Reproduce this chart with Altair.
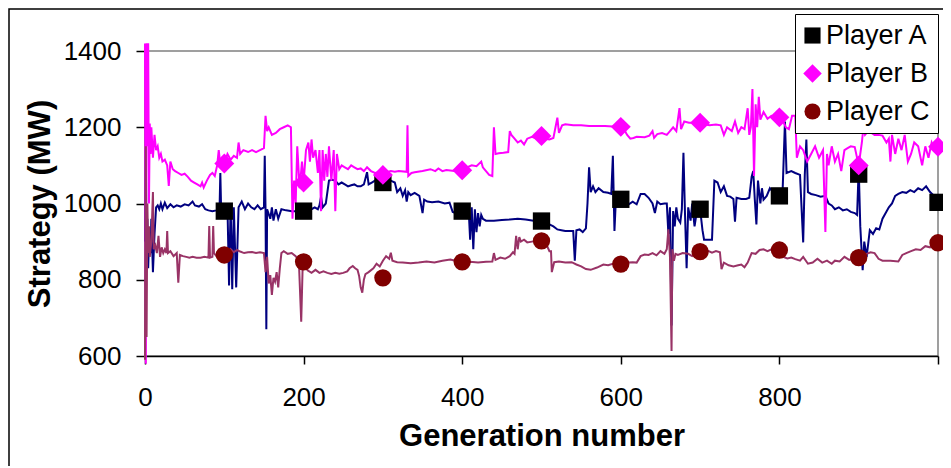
import altair as alt
import pandas as pd

PLAYERS = ["Player A", "Player B", "Player C"]

MARK_GEN = [100, 200, 300, 400, 500, 600, 700, 800, 900, 1000]
A_MARK = [980, 980, 1055, 980, 954, 1011, 985, 1020, 1077, 1003]
B_MARK = [1105, 1055, 1075, 1087, 1177, 1201, 1212, 1226, 1100, 1149]
C_MARK = [865, 847, 805, 847, 902, 841, 874, 878, 858, 897]

A_LINE = [
    (0, 900), (1, 1145), (2, 870), (3, 960), (4, 830), (5, 900), (7, 870), (8, 960), (10, 820), (12, 920),
    (14, 990), (16, 995), (18, 985), (20, 1000), (22, 985), (25, 1002), (28, 988), (32, 998), (36, 990),
    (40, 995), (45, 992), (50, 998), (55, 995), (60, 1005), (63, 995), (68, 992), (72, 998), (76, 985),
    (80, 982), (85, 980), (90, 982), (94, 985), (95, 1080), (96, 985), (100, 980), (104, 990), (106, 785),
    (108, 1000), (110, 775), (112, 990), (115, 780), (118, 990), (122, 1005), (126, 985), (130, 1000),
    (134, 990), (138, 985), (142, 995), (146, 985), (150, 990), (151, 1125), (152, 985), (153, 670),
    (154, 985), (158, 960), (160, 990), (162, 955), (165, 985), (168, 960), (172, 985), (178, 982),
    (185, 980), (190, 980), (195, 980), (200, 980), (205, 982), (210, 985), (214, 990), (218, 985),
    (220, 995), (222, 1018), (224, 990), (228, 1000), (232, 1060), (236, 1062), (240, 1060), (244, 1050),
    (248, 1055), (252, 1050), (256, 1045), (260, 1048), (264, 1050), (268, 1045), (272, 1045), (276, 1050),
    (280, 1082), (282, 1050), (286, 1055), (290, 1060), (295, 1058), (300, 1058), (305, 1060), (310, 1060),
    (315, 1055), (318, 1030), (322, 1040), (325, 1020), (328, 1035), (330, 1005), (332, 1030), (335, 1022),
    (340, 1028), (346, 1020), (350, 975), (352, 1010), (356, 1005), (362, 1003), (370, 1005), (378, 1000),
    (384, 1002), (388, 978), (392, 975), (396, 980), (400, 980), (404, 985), (408, 990), (410, 905),
    (412, 990), (414, 880), (416, 985), (418, 925), (420, 975), (422, 940), (424, 970), (426, 960),
    (430, 955), (440, 955), (450, 957), (460, 958), (470, 960), (480, 958), (490, 955), (500, 955),
    (505, 952), (510, 945), (515, 940), (520, 932), (525, 930), (530, 928), (535, 928), (540, 928),
    (542, 850), (544, 930), (548, 932), (552, 925), (556, 935), (558, 1000), (560, 1095), (562, 1030),
    (565, 1045), (568, 1030), (572, 1040), (578, 1030), (584, 1028), (588, 1025), (590, 1125), (592, 928),
    (594, 1020), (598, 1012), (600, 1010), (605, 1003), (610, 998), (615, 1005), (620, 998), (625, 1025),
    (630, 1025), (635, 1015), (640, 1000), (643, 975), (646, 1005), (650, 998), (655, 1000), (658, 1000),
    (660, 920), (662, 990), (664, 680), (666, 980), (668, 940), (670, 990), (672, 960), (675, 950),
    (677, 985), (679, 1133), (681, 970), (683, 830), (685, 990), (688, 955), (690, 1000), (693, 940),
    (696, 980), (700, 985), (703, 930), (705, 905), (710, 905), (715, 905), (718, 1060), (722, 1055),
    (726, 1030), (730, 1045), (734, 1020), (738, 1018), (742, 1012), (744, 952), (746, 1015), (752, 1012),
    (758, 1012), (762, 1015), (765, 1070), (767, 1085), (769, 1010), (771, 945), (773, 1060), (776, 1000),
    (778, 1040), (780, 1010), (784, 1020), (788, 1040), (792, 1030), (796, 1025), (800, 1020), (804, 1030),
    (807, 1215), (809, 1080), (815, 1085), (820, 1080), (826, 1075), (830, 898), (832, 1075), (834, 1168),
    (836, 1030), (840, 1025), (846, 1022), (852, 1018), (858, 1020), (862, 1000), (866, 995), (870, 985),
    (875, 990), (880, 982), (885, 985), (890, 978), (895, 975), (898, 970), (900, 1095), (902, 940),
    (905, 825), (907, 900), (910, 860), (914, 930), (918, 920), (922, 935), (926, 932), (930, 960),
    (934, 975), (938, 990), (942, 1000), (946, 1020), (950, 1025), (955, 1030), (960, 1028), (965, 1035),
    (970, 1030), (975, 1040), (980, 1035), (985, 1045), (990, 1030), (995, 1020), (1000, 1005),
]

B_LINE = [
    (0, 1420), (1, 580), (2, 1420), (3, 1150), (4, 1420), (5, 1000), (6, 1210), (7, 1130), (8, 1200),
    (10, 1120), (12, 1180), (14, 1140), (16, 1150), (18, 1120), (20, 1130), (22, 1110), (25, 1115),
    (28, 1100), (30, 1046), (32, 1110), (35, 1090), (38, 1085), (42, 1080), (46, 1075), (50, 1078),
    (54, 1070), (58, 1060), (62, 1055), (66, 1050), (70, 1045), (72, 1055), (74, 1042), (78, 1060),
    (82, 1075), (85, 1080), (88, 1072), (91, 1100), (93, 1140), (95, 1100), (100, 1105), (104, 1130),
    (108, 1115), (112, 1125), (116, 1120), (118, 1160), (120, 1130), (124, 1140), (130, 1135), (135, 1140),
    (140, 1135), (145, 1140), (150, 1145), (152, 1230), (154, 1190), (156, 1200), (160, 1180), (165, 1185),
    (170, 1195), (175, 1200), (180, 1205), (184, 1200), (186, 960), (188, 1060), (190, 1000), (192, 1150),
    (195, 1040), (198, 1110), (200, 1055), (203, 1140), (206, 1160), (208, 1110), (210, 1168), (212, 1120),
    (215, 1140), (218, 1080), (220, 1140), (222, 980), (224, 1140), (226, 1060), (228, 1130), (230, 1070),
    (232, 1150), (235, 1060), (238, 1140), (240, 980), (242, 1130), (245, 1090), (248, 1100), (252, 1095),
    (256, 1090), (260, 1100), (264, 1095), (268, 1090), (272, 1092), (276, 1085), (280, 1095), (285, 1085),
    (290, 1080), (295, 1082), (300, 1078), (305, 1082), (310, 1085), (315, 1083), (320, 1085), (330, 1083),
    (331, 1205), (332, 1072), (336, 1080), (340, 1082), (350, 1085), (360, 1090), (366, 1085), (370, 1092),
    (375, 1085), (380, 1088), (390, 1085), (400, 1085), (406, 1095), (412, 1100), (418, 1098), (424, 1110),
    (426, 1095), (430, 1085), (434, 1075), (438, 1072), (440, 1200), (442, 1130), (446, 1132), (452, 1133),
    (458, 1135), (460, 1190), (462, 1180), (466, 1170), (470, 1160), (474, 1165), (478, 1155), (482, 1170),
    (488, 1175), (494, 1170), (500, 1175), (505, 1170), (510, 1168), (515, 1172), (520, 1225), (522, 1185),
    (526, 1205), (530, 1208), (540, 1205), (550, 1205), (560, 1203), (570, 1203), (580, 1203), (590, 1202),
    (600, 1200), (604, 1195), (608, 1180), (612, 1170), (616, 1172), (620, 1175), (630, 1174), (636, 1178),
    (640, 1190), (642, 1172), (646, 1182), (652, 1185), (658, 1180), (662, 1190), (666, 1200), (670, 1190),
    (674, 1250), (676, 1195), (680, 1215), (686, 1212), (690, 1212), (700, 1212), (705, 1208), (712, 1205),
    (720, 1207), (726, 1205), (730, 1180), (734, 1200), (740, 1190), (744, 1215), (748, 1185), (752, 1200),
    (756, 1195), (760, 1250), (762, 1180), (764, 1200), (766, 1300), (768, 1072), (770, 1260), (772, 1200),
    (774, 1280), (776, 1220), (780, 1240), (785, 1222), (790, 1230), (795, 1228), (800, 1225), (804, 1220),
    (808, 1200), (812, 1195), (816, 1230), (820, 1230), (822, 1120), (826, 1150), (830, 1140), (835, 1110),
    (840, 1130), (845, 1150), (850, 1120), (855, 1140), (858, 925), (860, 1130), (862, 1100), (866, 1150),
    (870, 1110), (874, 1130), (878, 1085), (882, 1140), (886, 1145), (890, 1150), (895, 1148), (900, 1100),
    (904, 1160), (906, 1200), (908, 1180), (912, 1190), (916, 1185), (920, 1180), (925, 1180), (930, 1178),
    (935, 1160), (938, 1170), (940, 1110), (942, 1180), (946, 1130), (950, 1170), (954, 1140), (958, 1180),
    (962, 1110), (966, 1130), (970, 1160), (975, 1150), (980, 1100), (984, 1150), (988, 1120), (992, 1160),
    (996, 1140), (1000, 1148),
]

C_LINE = [
    (0, 590), (1, 1150), (2, 650), (3, 1000), (4, 870), (5, 940), (6, 860), (8, 900), (10, 1030), (11, 880),
    (13, 890), (15, 870), (17, 915), (19, 860), (21, 885), (23, 870), (25, 880), (27, 870), (28, 928),
    (29, 870), (32, 875), (36, 862), (40, 870), (42, 792), (44, 865), (48, 862), (52, 860), (56, 858),
    (60, 860), (65, 858), (70, 858), (75, 860), (80, 858), (81, 941), (82, 858), (85, 860), (86, 941),
    (87, 870), (90, 862), (95, 865), (100, 865), (105, 868), (108, 880), (112, 872), (116, 878), (120, 874),
    (125, 870), (130, 872), (135, 873), (140, 870), (145, 872), (150, 870), (152, 820), (154, 860),
    (156, 790), (158, 812), (160, 760), (162, 805), (164, 795), (166, 820), (168, 780), (170, 830),
    (172, 870), (175, 875), (180, 868), (185, 870), (190, 862), (194, 850), (197, 690), (199, 850),
    (200, 847), (205, 825), (210, 818), (215, 826), (220, 818), (225, 822), (230, 818), (235, 815),
    (240, 818), (245, 816), (250, 818), (255, 822), (258, 830), (262, 836), (265, 830), (268, 826),
    (270, 810), (272, 780), (274, 766), (276, 800), (278, 815), (282, 820), (288, 830), (292, 842),
    (296, 835), (300, 850), (304, 862), (308, 855), (310, 871), (312, 850), (318, 846), (325, 845),
    (335, 843), (345, 845), (355, 848), (365, 845), (375, 850), (385, 853), (395, 848), (400, 845),
    (410, 847), (420, 845), (430, 847), (438, 848), (440, 870), (442, 852), (448, 858), (454, 855),
    (460, 862), (464, 872), (466, 868), (468, 915), (470, 880), (472, 912), (474, 900), (478, 905),
    (482, 898), (488, 900), (494, 902), (500, 900), (505, 898), (510, 875), (512, 875), (513, 820),
    (516, 846), (522, 848), (530, 845), (538, 846), (544, 840), (550, 835), (556, 828), (562, 826),
    (570, 832), (578, 840), (584, 838), (590, 842), (596, 840), (600, 840), (605, 842), (610, 845),
    (615, 846), (620, 845), (625, 862), (630, 866), (635, 865), (640, 870), (645, 864), (650, 875),
    (655, 868), (658, 880), (660, 932), (662, 860), (664, 613), (665, 880), (667, 850), (669, 868),
    (672, 865), (678, 870), (685, 868), (690, 862), (695, 870), (700, 872), (705, 874), (710, 876),
    (715, 871), (720, 875), (725, 872), (727, 828), (730, 845), (736, 838), (742, 835), (748, 838),
    (752, 840), (756, 833), (760, 845), (765, 870), (770, 868), (775, 878), (780, 880), (785, 875),
    (790, 880), (795, 878), (800, 878), (805, 860), (810, 856), (815, 858), (820, 854), (826, 850),
    (830, 860), (836, 842), (842, 845), (848, 855), (854, 845), (860, 850), (866, 842), (870, 850),
    (876, 848), (882, 860), (888, 852), (894, 856), (900, 858), (905, 860), (910, 868), (915, 872),
    (920, 870), (925, 855), (930, 850), (940, 850), (950, 848), (955, 865), (960, 870), (966, 875),
    (972, 880), (978, 878), (984, 888), (990, 885), (994, 890), (1000, 897),
]

LINE_COLORS = ["#000080", "#FF00FF", "#993366"]
MARK_COLORS = ["#000000", "#FF00FF", "#800000"]
MARK_SHAPES = ["square", "M0,-1.15L1.15,0L0,1.15L-1.15,0Z", "circle"]

FONT = "Liberation Sans"

x_scale = alt.Scale(domain=[0, 1000], nice=False, zero=False)
y_scale = alt.Scale(domain=[600, 1400], nice=False, zero=False)

x_axis = alt.Axis(
    title="Generation number", values=[0, 200, 400, 600, 800, 1000],
    labelExpr="datum.value == 1000 ? '' : datum.label", format="d",
    grid=False, tickSize=8, labelPadding=20, labelFlush=False, labelOverlap=False,
    titleX=396.5, titleY=80, titleBaseline="middle",
)
y_axis = alt.Axis(
    title="Strategy (MW)", values=[600, 800, 1000, 1200, 1400], format="d",
    grid=False, tickSize=9, labelPadding=15, labelFlush=False, labelOverlap=False,
    titleX=-105, titleY=152.5, titleAngle=270, titleBaseline="middle", titleAlign="center",
)


def line_layer(points, color, first):
    df = pd.DataFrame(points, columns=["gen", "value"])
    if first:
        enc = dict(x=alt.X("gen:Q", scale=x_scale, axis=x_axis),
                   y=alt.Y("value:Q", scale=y_scale, axis=y_axis))
    else:
        enc = dict(x=alt.X("gen:Q", scale=x_scale), y=alt.Y("value:Q", scale=y_scale))
    return alt.Chart(df).mark_line(color=color, strokeWidth=2, clip=False).encode(**enc)


rows = []
for name, vals in zip(PLAYERS, [A_MARK, B_MARK, C_MARK]):
    for g, v in zip(MARK_GEN, vals):
        rows.append({"player": name, "gen": g, "value": v})
mark_df = pd.DataFrame(rows)

legend = alt.Legend(
    title=None, orient="none", legendX=650, legendY=-37,
    strokeColor="black", fillColor="white", padding=8,
    labelFont=FONT, labelFontSize=27, labelColor="black", labelOffset=0,
    symbolOffset=-4, symbolSize=260, symbolStrokeWidth=0, symbolOpacity=1, rowPadding=10,
)

markers = alt.Chart(mark_df).mark_point(filled=True, size=300, opacity=1, strokeWidth=0).encode(
    x=alt.X("gen:Q", scale=x_scale),
    y=alt.Y("value:Q", scale=y_scale),
    color=alt.Color("player:N", scale=alt.Scale(domain=PLAYERS, range=MARK_COLORS), legend=legend),
    shape=alt.Shape("player:N", scale=alt.Scale(domain=PLAYERS, range=MARK_SHAPES), legend=legend),
)

frame = alt.Chart(alt.Data(values=[{"k": 1}])).mark_rect(
    filled=False, stroke="black", strokeWidth=1.5, clip=False
).encode(x=alt.value(-136), x2=alt.value(1000), y=alt.value(-42), y2=alt.value(600))

chart = alt.layer(
    frame,
    line_layer(A_LINE, LINE_COLORS[0], True),
    line_layer(B_LINE, LINE_COLORS[1], False),
    line_layer(C_LINE, LINE_COLORS[2], False),
    markers,
).properties(
    width=793, height=305,
    padding={"left": 137, "top": 43, "right": 5, "bottom": 110},
    autosize=alt.AutoSizeParams(type="none"),
).configure_view(
    stroke="#808080", strokeWidth=1.5
).configure_axis(
    domainColor="black", domainWidth=1.5, tickColor="black", tickWidth=1.5,
    labelFont=FONT, labelFontSize=26, labelColor="black",
    titleFont=FONT, titleFontSize=31, titleFontWeight="bold", titleColor="black",
)

chart.save("out.html", embed_options={"renderer": "svg", "actions": False})
